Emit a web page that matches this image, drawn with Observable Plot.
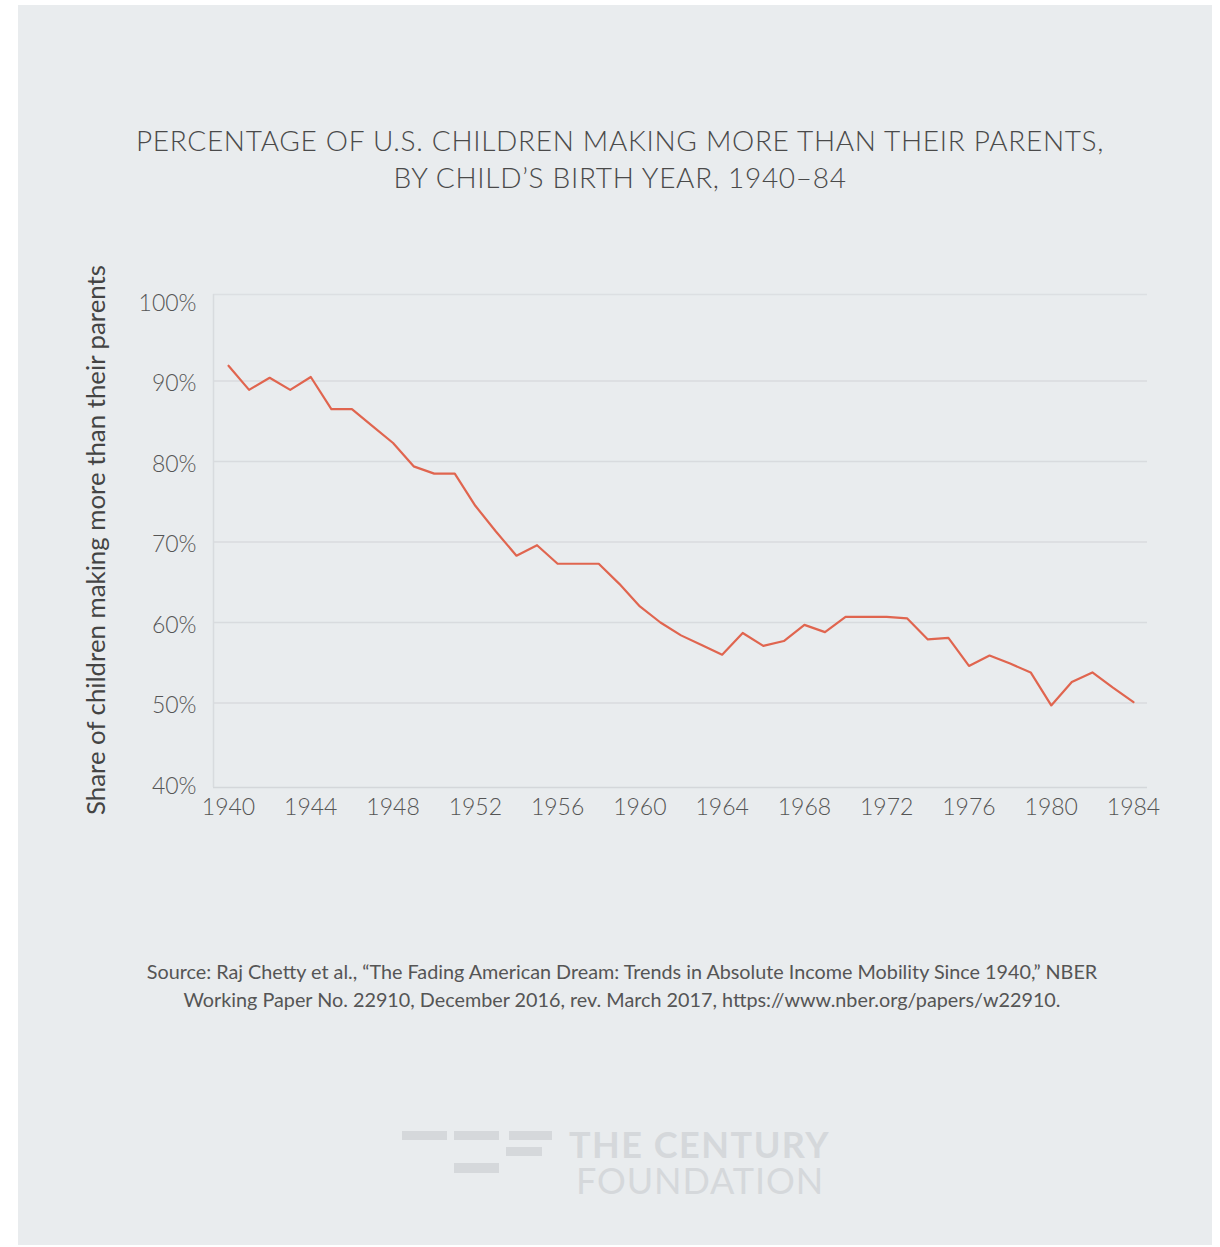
<!DOCTYPE html>
<html>
<head>
<meta charset="utf-8">
<script src="https://cdn.jsdelivr.net/npm/d3@7"></script>
<script src="https://cdn.jsdelivr.net/npm/@observablehq/plot@0.6"></script>
<style>
  html, body { margin: 0; padding: 0; background: #ffffff; }
  body { width: 1220px; height: 1247px; position: relative; overflow: hidden; font-family: Lato, "Open Sans", sans-serif; }
  #panel { position: absolute; left: 18px; top: 5px; width: 1194px; height: 1240px; background: #e9ecee; }
  .title { position: absolute; left: 0; width: 1240px; text-align: center; font-weight: 300; font-size: 28px; color: #4a4a4a; line-height: 37px; letter-spacing: 0.7px; }
  #ylabel { position: absolute; left: 95px; top: 540px; transform: translate(-50%, -50%) rotate(-90deg); white-space: nowrap; font-size: 25.8px; color: #444; font-weight: 400; }
  .source { position: absolute; left: 0; width: 1244px; text-align: center; font-size: 19.8px; color: #555; line-height: 28px; }
  #chart { position: absolute; left: 0; top: 0; }
  .bar { position: absolute; background: #d5d8db; }
  .logo { position: absolute; font-family: Lato, sans-serif; color: #d5d8db; font-size: 36px; line-height: 36px; white-space: nowrap; }
</style>
</head>
<body>
<div id="panel"></div>
<div class="title" style="top:122px">PERCENTAGE OF U.S. CHILDREN MAKING MORE THAN THEIR PARENTS,<br>BY CHILD’S BIRTH YEAR, 1940–84</div>
<div id="chart"></div>
<div id="ylabel">Share of children making more than their parents</div>
<div class="source" style="top:957px">Source: Raj Chetty et al., “The Fading American Dream: Trends in Absolute Income Mobility Since 1940,” NBER<br>Working Paper No. 22910, December 2016, rev. March 2017, https://www.nber.org/papers/w22910.</div>
<div class="bar" style="left:402px;top:1131px;width:45px;height:9px"></div>
<div class="bar" style="left:454px;top:1131px;width:45px;height:9px"></div>
<div class="bar" style="left:509px;top:1131px;width:43px;height:9px"></div>
<div class="bar" style="left:506px;top:1147px;width:36px;height:9px"></div>
<div class="bar" style="left:454px;top:1163px;width:45px;height:10px"></div>
<div class="logo" style="left:569px;top:1126px;"><span style="font-weight:700;letter-spacing:1.5px;">THE CENTURY</span><br><span style="font-weight:400;letter-spacing:0.9px;display:inline-block;margin-left:7px;">FOUNDATION</span></div>
<script>
const years = [1940,1941,1942,1943,1944,1945,1946,1947,1948,1949,
               1950,1951,1952,1953,1954,1955,1956,1957,1958,1959,
               1960,1961,1962,1963,1964,1965,1966,1967,1968,1969,
               1970,1971,1972,1973,1974,1975,1976,1977,1978,1979,
               1980,1981,1982,1983,1984];
const shareMore = [91.9,88.9,90.4,88.9,90.5,86.5,86.5,84.4,82.3,79.4,
                   78.5,78.5,74.5,71.3,68.3,69.6,67.3,67.3,67.3,64.8,
                   62.0,60.0,58.4,57.2,56.0,58.7,57.1,57.7,59.7,58.8,
                   60.7,60.7,60.7,60.5,57.9,58.1,54.6,55.9,54.9,53.8,
                   49.7,52.6,53.8,51.9,50.1];
const xTicks = [1940,1944,1948,1952,1956,1960,1964,1968,1972,1976,1980,1984];
const yTicks = [40,50,60,70,80,90,100];
const gridTicks = [50,60,70,80,90];

const data = years.map((y, i) => ({year: y, value: shareMore[i]}));
const xDomain = [1939.27, 1984.68];
const yDomain = [39.5, 100.75];

const chart = Plot.plot({
  width: 1220,
  height: 830,
  marginLeft: 213,
  marginRight: 73,
  marginTop: 294,
  marginBottom: 43,
  style: {background: "transparent", fontFamily: "Lato, sans-serif", color: "#555"},
  x: {domain: xDomain, ticks: xTicks, tickFormat: d => String(d), tickSize: 0, tickPadding: 11, label: null},
  y: {domain: yDomain, ticks: yTicks, tickFormat: d => d + "%", tickSize: 0, tickPadding: 17, label: null},
  marks: [
    Plot.gridY(gridTicks, {stroke: "#d8dbde", strokeOpacity: 1, strokeWidth: 1.5}),
    Plot.ruleY([yDomain[1]], {stroke: "#dcdfe2", strokeWidth: 1.5}),
    Plot.ruleY([yDomain[0]], {stroke: "#d4d7da", strokeWidth: 1.5}),
    Plot.ruleX([xDomain[0]], {stroke: "#d8dbde", strokeWidth: 1.5}),
    Plot.axisX({ticks: xTicks, tickFormat: d => String(d), tickSize: 0, tickPadding: 11, fontSize: 23, fontWeight: 300, fill: "#555", label: null}),
    Plot.axisY({ticks: yTicks, tickFormat: d => d + "%", tickSize: 0, tickPadding: 17, fontSize: 23, fontWeight: 300, fill: "#555", dy: 3, label: null}),
    Plot.lineY(data, {x: "year", y: "value", stroke: "#e0654f", strokeWidth: 2.2})
  ]
});
document.getElementById("chart").appendChild(chart);
</script>
</body>
</html>
